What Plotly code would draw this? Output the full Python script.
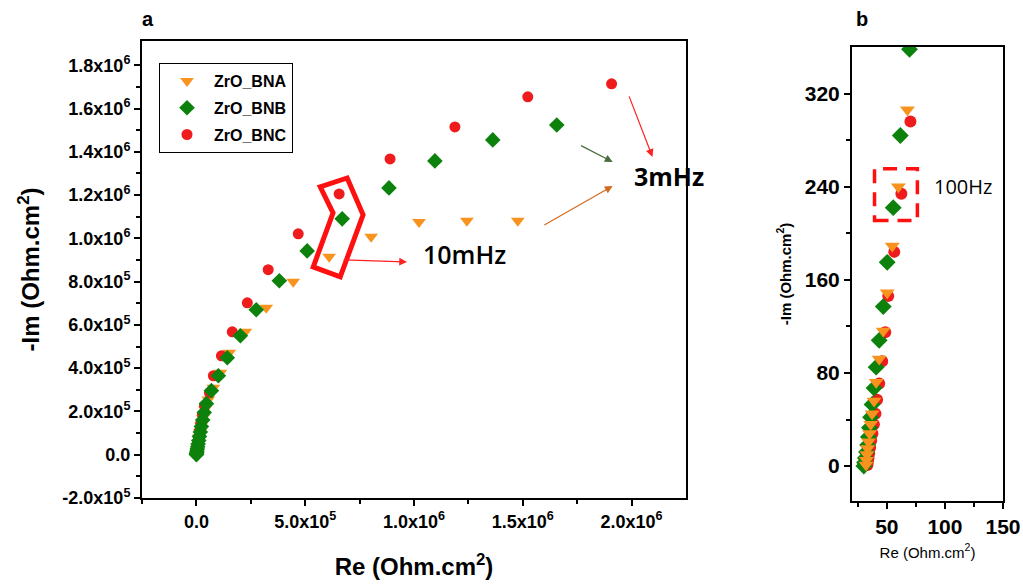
import plotly.graph_objects as go

# ---------------- data ----------------
series = ["ZrO_BNA", "ZrO_BNB", "ZrO_BNC"]

# Panel a : full Nyquist plot
bna_a_re = [1.477e6, 1.243e6, 1.023e6, 0.803e6, 0.610e6, 0.445e6, 0.321e6, 0.225e6, 0.151e6, 0.110e6,
            0.078e6, 0.055e6, 0.040e6, 0.030e6, 0.022e6, 0.016e6, 0.011e6, 0.007e6, 0.004e6, 0.002e6, 0.001e6]
bna_a_im = [1.081e6, 1.081e6, 1.076e6, 1.007e6, 0.915e6, 0.799e6, 0.679e6, 0.568e6, 0.471e6, 0.379e6,
            0.309e6, 0.255e6, 0.210e6, 0.170e6, 0.135e6, 0.105e6, 0.080e6, 0.055e6, 0.035e6, 0.018e6, 0.006e6]

bnb_a_re = [1.656e6, 1.362e6, 1.096e6, 0.885e6, 0.670e6, 0.509e6, 0.381e6, 0.275e6, 0.202e6, 0.142e6,
            0.101e6, 0.069e6, 0.046e6, 0.036e6, 0.029e6, 0.023e6, 0.018e6, 0.014e6, 0.011e6, 0.008e6,
            0.006e6, 0.004e6, 0.0025e6, 0.0015e6, 0.0008e6, 0.0003e6, 0.0001e6]
bnb_a_im = [1.524e6, 1.455e6, 1.358e6, 1.233e6, 1.090e6, 0.942e6, 0.804e6, 0.670e6, 0.550e6, 0.448e6,
            0.365e6, 0.296e6, 0.236e6, 0.195e6, 0.160e6, 0.130e6, 0.105e6, 0.084e6, 0.066e6, 0.050e6,
            0.037e6, 0.026e6, 0.017e6, 0.010e6, 0.005e6, 0.002e6, 0.0005e6]

bnc_a_re = [1.908e6, 1.523e6, 1.188e6, 0.890e6, 0.656e6, 0.468e6, 0.330e6, 0.234e6, 0.165e6, 0.115e6,
            0.078e6, 0.060e6, 0.037e6, 0.028e6, 0.020e6, 0.014e6, 0.010e6, 0.006e6, 0.003e6, 0.001e6]
bnc_a_im = [1.714e6, 1.654e6, 1.515e6, 1.367e6, 1.205e6, 1.021e6, 0.855e6, 0.702e6, 0.568e6, 0.457e6,
            0.365e6, 0.286e6, 0.226e6, 0.185e6, 0.145e6, 0.110e6, 0.080e6, 0.050e6, 0.025e6, 0.008e6]

# Panel b : high-frequency zoom
bna_b_re = [67.7, 59.9, 54.7, 50.3, 46.9, 43.4, 40.8, 39.0, 37.3, 36.1, 35.1, 34.2, 33.5, 32.9, 32.4, 32.1]
bna_b_im = [306, 240, 189, 149, 116, 92, 72, 56, 45, 36, 28, 21, 15, 10, 5, 1]

bnb_b_re = [69.5, 61.6, 55.5, 50.3, 46.9, 43.4, 40.8, 39.0, 37.3, 36.0, 35.0, 34.1, 33.4, 32.5, 31.5, 30.8, 30.2]
bnb_b_im = [358, 284, 222, 175, 137, 108, 85, 67, 53, 42, 33, 25, 18, 12, 7, 3, 0]

bnc_b_re = [70.3, 62.5, 56.4, 51.2, 48.6, 46.0, 43.4, 41.6, 40.2, 38.8, 37.6, 36.5, 35.6, 34.8, 34.2, 33.7, 33.3]
bnc_b_im = [296, 234, 184, 146, 115, 90, 71, 57, 45, 36, 28, 22, 16, 11, 7, 4, 1]

# tick labels
xa_ticks = [0, 5e5, 1e6, 1.5e6, 2e6]
xa_text = ["0.0", "5.0x10<sup>5</sup>", "1.0x10<sup>6</sup>", "1.5x10<sup>6</sup>", "2.0x10<sup>6</sup>"]
ya_ticks = [-2e5, 0, 2e5, 4e5, 6e5, 8e5, 1e6, 1.2e6, 1.4e6, 1.6e6, 1.8e6]
ya_text = ["-2.0x10<sup>5</sup>", "0.0", "2.0x10<sup>5</sup>", "4.0x10<sup>5</sup>", "6.0x10<sup>5</sup>",
           "8.0x10<sup>5</sup>", "1.0x10<sup>6</sup>", "1.2x10<sup>6</sup>", "1.4x10<sup>6</sup>",
           "1.6x10<sup>6</sup>", "1.8x10<sup>6</sup>"]
xb_ticks = [50, 100, 150]
yb_ticks = [0, 80, 160, 240, 320]

# ---------------- layout helpers ----------------
W, H = 1023, 585


def px(x):
    return x / W


def py(y):
    return 1 - y / H


# ---------------- styles ----------------
C_ORANGE = "#f7931e"
C_GREEN = "#0c820c"
C_RED = "#ee1c1c"
FONT = "Arial, Liberation Sans, sans-serif"

fig = go.Figure()

style = {
    "ZrO_BNA": dict(symbol="triangle-down", color=C_ORANGE, rank=1),
    "ZrO_BNB": dict(symbol="diamond", color=C_GREEN, rank=2),
    "ZrO_BNC": dict(symbol="circle", color=C_RED, rank=3),
}
size_a = {"ZrO_BNA": 12, "ZrO_BNB": 12, "ZrO_BNC": 11}
size_b = {"ZrO_BNA": 13, "ZrO_BNB": 13, "ZrO_BNC": 12}

data_a = {"ZrO_BNA": (bna_a_re, bna_a_im), "ZrO_BNB": (bnb_a_re, bnb_a_im), "ZrO_BNC": (bnc_a_re, bnc_a_im)}
data_b = {"ZrO_BNA": (bna_b_re, bna_b_im), "ZrO_BNB": (bnb_b_re, bnb_b_im), "ZrO_BNC": (bnc_b_re, bnc_b_im)}

# panel a: green drawn on top
for name in ["ZrO_BNA", "ZrO_BNC", "ZrO_BNB"]:
    s = style[name]
    x, y = data_a[name]
    fig.add_trace(go.Scatter(x=x, y=y, mode="markers", name=name, legendrank=s["rank"], legendgroup=name,
                             marker=dict(symbol=s["symbol"], color=s["color"], size=size_a[name],
                                         line=dict(width=0)),
                             xaxis="x", yaxis="y", showlegend=True))
# panel b: orange drawn on top
for name in ["ZrO_BNC", "ZrO_BNB", "ZrO_BNA"]:
    s = style[name]
    x, y = data_b[name]
    fig.add_trace(go.Scatter(x=x, y=y, mode="markers", name=name, legendgroup=name,
                             marker=dict(symbol=s["symbol"], color=s["color"], size=size_b[name],
                                         line=dict(width=0)),
                             xaxis="x2", yaxis="y2", showlegend=False))

axis_common = dict(showline=True, linecolor="black", linewidth=2, mirror=True, showgrid=False,
                   zeroline=False, ticks="outside", ticklen=6, tickwidth=1.5, tickcolor="black")

fig.update_layout(
    width=W, height=H,
    margin=dict(l=0, r=0, t=0, b=0, autoexpand=False),
    paper_bgcolor="white", plot_bgcolor="white",
    font=dict(family=FONT, color="black"),
    xaxis=dict(domain=[px(142), px(686)], range=[-2.5e5, 2.25e6], anchor="y",
               tickmode="array", tickvals=xa_ticks, ticktext=["<b>%s</b>" % t for t in xa_text],
               tickfont=dict(size=18, family=FONT),
               minor=dict(tickmode="array", tickvals=[-2.5e5, 2.5e5, 7.5e5, 1.25e6, 1.75e6],
                          ticks="outside", ticklen=4, tickwidth=1.5, tickcolor="black"),
               title=dict(text="<b>Re (Ohm.cm<sup>2</sup>)</b>", font=dict(size=24, family=FONT), standoff=28),
               **axis_common),
    yaxis=dict(domain=[py(498), py(41)], range=[-2e5, 1.912e6], anchor="x",
               tickmode="array", tickvals=ya_ticks, ticktext=["<b>%s</b>" % t for t in ya_text],
               tickfont=dict(size=18, family=FONT),
               minor=dict(tickmode="array", tickvals=[-1e5 + 2e5 * i for i in range(10)],
                          ticks="outside", ticklen=4, tickwidth=1.5, tickcolor="black"),
               title=dict(text="<b>-Im (Ohm.cm<sup>2</sup>)</b>", font=dict(size=24, family=FONT), standoff=16),
               **axis_common),
    xaxis2=dict(domain=[px(852), px(1003)], range=[20, 150], anchor="y2",
                tickmode="array", tickvals=xb_ticks, ticktext=["<b>%d</b>" % t for t in xb_ticks],
                tickfont=dict(size=21, family=FONT),
                minor=dict(tickmode="array", tickvals=[25, 75, 125], ticks="outside", ticklen=4,
                           tickwidth=1.5, tickcolor="black"),
                title=dict(text="Re (Ohm.cm<sup>2</sup>)", font=dict(size=15, family=FONT), standoff=10),
                **axis_common),
    yaxis2=dict(domain=[py(501), py(47)], range=[-30, 360], anchor="x2",
                tickmode="array", tickvals=yb_ticks, ticktext=["<b>%d</b>" % t for t in yb_ticks],
                tickfont=dict(size=21, family=FONT),
                minor=dict(tickmode="array", tickvals=[40, 120, 200, 280], ticks="outside", ticklen=4,
                           tickwidth=1.5, tickcolor="black"),
                title=dict(text="<b>-Im (Ohm.cm<sup>2</sup>)</b>", font=dict(size=15, family=FONT), standoff=10),
                **axis_common),
    legend=dict(x=px(159), y=py(63), xanchor="left", yanchor="top", bgcolor="white",
                bordercolor="black", borderwidth=1, font=dict(size=16, family=FONT, weight="bold"),
                itemwidth=44, tracegroupgap=3),
)

# panel labels
fig.add_annotation(text="<b>a</b>", x=px(148), y=py(19), xref="paper", yref="paper",
                   xanchor="center", yanchor="middle", showarrow=False, font=dict(size=20, family=FONT))
fig.add_annotation(text="<b>b</b>", x=px(862), y=py(19), xref="paper", yref="paper",
                   xanchor="center", yanchor="middle", showarrow=False, font=dict(size=20, family=FONT))

# red bent outline around the 10 mHz points (panel a)
fig.add_shape(type="path", xref="x", yref="y",
              path="M 5.69e5,1.238e6 L 6.93e5,1.279e6 L 7.66e5,1.109e6 L 6.61e5,8.22e5 "
                   "L 5.37e5,8.68e5 L 6.28e5,1.118e6 Z",
              line=dict(color="#ff1010", width=5))

# arrows
arrows = [
    ((6.70e5, 9.01e5), (9.68e5, 8.91e5), "#ff2020"),
    ((1.986e6, 1.663e6), (2.096e6, 1.376e6), "#ff2020"),
    ((1.761e6, 1.432e6), (1.913e6, 1.353e6), "#4a6b3a"),
    ((1.592e6, 1.058e6), (1.913e6, 1.242e6), "#d2691e"),
]
for (tx, ty), (hx, hy), col in arrows:
    fig.add_annotation(x=hx, y=hy, ax=tx, ay=ty, xref="x", yref="y", axref="x", ayref="y",
                       text="", showarrow=True, arrowhead=2, arrowsize=1.3, arrowwidth=1.2,
                       arrowcolor=col)

fig.add_annotation(text="10mHz", x=1.234e6, y=0.928e6, xref="x", yref="y", showarrow=False,
                   font=dict(size=25, family="Open Sans", weight=600, color="black"))
fig.add_annotation(text="3mHz", x=2.174e6, y=1.289e6, xref="x", yref="y", showarrow=False,
                   font=dict(size=25, family="Open Sans", weight="bold", color="black"))

# panel b: dashed box and 100Hz label
fig.add_shape(type="rect", xref="x2", yref="y2", x0=39.4, x1=76.3, y0=211, y1=255.5,
              line=dict(color="#ff1010", width=3.5, dash="14px,9px"))
fig.add_annotation(text="100Hz", x=115.9, y=240, xref="x2", yref="y2", showarrow=False,
                   font=dict(size=20, family="Open Sans", color="black"))

# remove the default 8px page margin so the figure fills the window exactly
fig.write_html("out.html",
               config={"displayModeBar": False},
               post_script="document.body.style.margin='0';"
                           "document.documentElement.style.overflow='hidden';")
